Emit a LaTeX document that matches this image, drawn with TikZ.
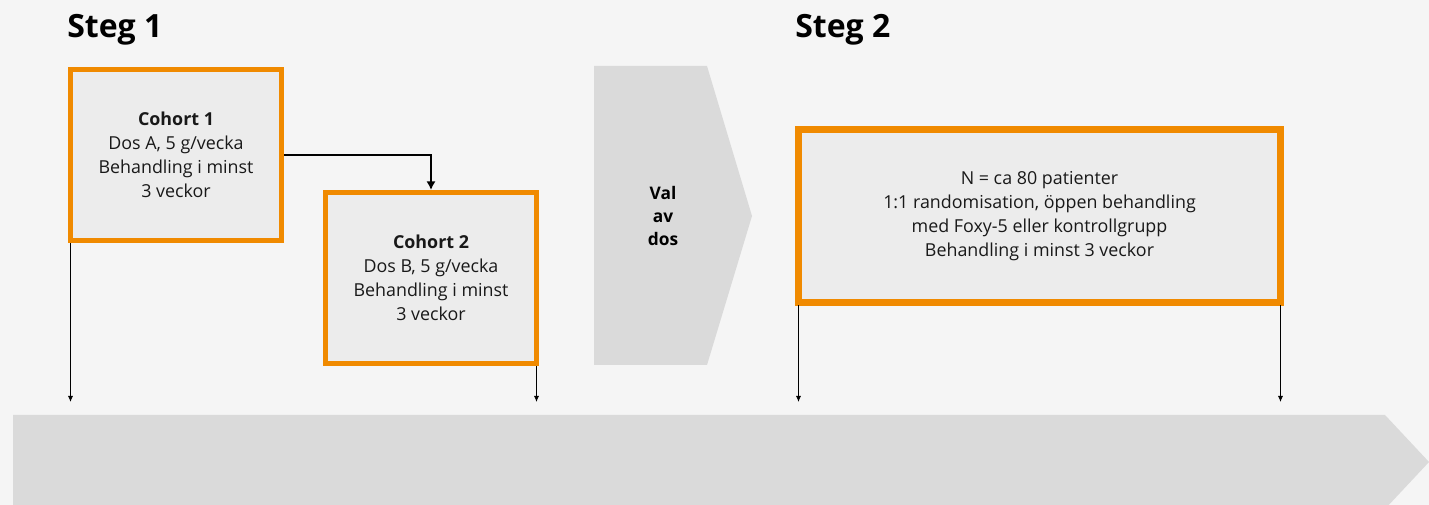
\documentclass[tikz,border=0pt]{standalone}
\usepackage{fontspec}
\setmainfont{Open Sans}
\usetikzlibrary{arrows.meta}

\definecolor{boxorange}{HTML}{F08A00}
\definecolor{boxgray}{HTML}{ECECEC}
\definecolor{bargray}{HTML}{DADADA}
\definecolor{bggray}{HTML}{F5F5F5}

\begin{document}
\begin{tikzpicture}[
    x=0.75pt,
    y=-0.75pt,
    cohort/.style={
        rectangle,
        draw=boxorange,
        line width=3.75pt,
        fill=boxgray,
        minimum width=158.25pt,
        minimum height=128.25pt,
        inner sep=0pt,
        outer sep=0pt,
        align=center,
        text=black!90,
        font=\fontsize{13.4}{18}\selectfont
    },
    armbox/.style={
        cohort,
        line width=5.25pt,
        minimum width=361.5pt,
        minimum height=129.75pt
    },
    heading/.style={
        anchor=base west,
        inner sep=0pt,
        font=\fontsize{24}{28}\selectfont\bfseries
    },
    tick/.style={
        -{Latex[length=4.5pt,width=3.75pt]},
        line width=0.6pt,
        shorten <=2pt
    },
    link/.style={
        -{Latex[length=6.5pt,width=7pt]},
        line width=1.5pt,
        shorten <=1.9pt,
        shorten >=1.9pt
    }
]

    % Background and page size
    \fill[bggray] (0,0) rectangle (1429,505);
    \useasboundingbox (0,0) rectangle (1429,505);
    \clip (0,0) rectangle (1429,505);

    % Time line
    \fill[bargray] (13,415) -- (1385,415) -- (1429,462) -- (1385,509) -- (13,509) -- cycle;
    \coordinate (tl) at (0,402);

    % Headings
    \node[heading] (h1) at (67,38) {Steg 1};
    \node[heading] (h2) at (795,38) {Steg 2};

    % Step 1 cohorts
    \node[cohort] (c1) at (176,155)
        {\textbf{Cohort 1}\\Dos A, 5 g/vecka\\Behandling i minst\\3 veckor};
    \node[cohort] (c2) at (431,278)
        {\textbf{Cohort 2}\\Dos B, 5 g/vecka\\Behandling i minst\\3 veckor};

    % Dose selection
    \fill[bargray] (594,66) -- (707,66) -- (752,216) -- (707,365) -- (594,365) -- cycle;
    \node[align=center, font=\fontsize{13}{17.6}\selectfont\bfseries] (val) at (663,216)
        {Val\\av\\dos};

    % Step 2 randomised part
    \node[armbox] (s2) at (1039.5,216)
        {N = ca 80 patienter\\1:1 randomisation, öppen behandling\\med Foxy-5 eller kontrollgrupp\\Behandling i minst 3 veckor};

    % Connections
    \draw[link] (c1.east) -| (c2.north);

    \foreach \n/\a in {c1/south west, c2/south east, s2/south west, s2/south east}
        \draw[tick] (\n.\a) -- (\n.\a |- tl);

\end{tikzpicture}
\end{document}
